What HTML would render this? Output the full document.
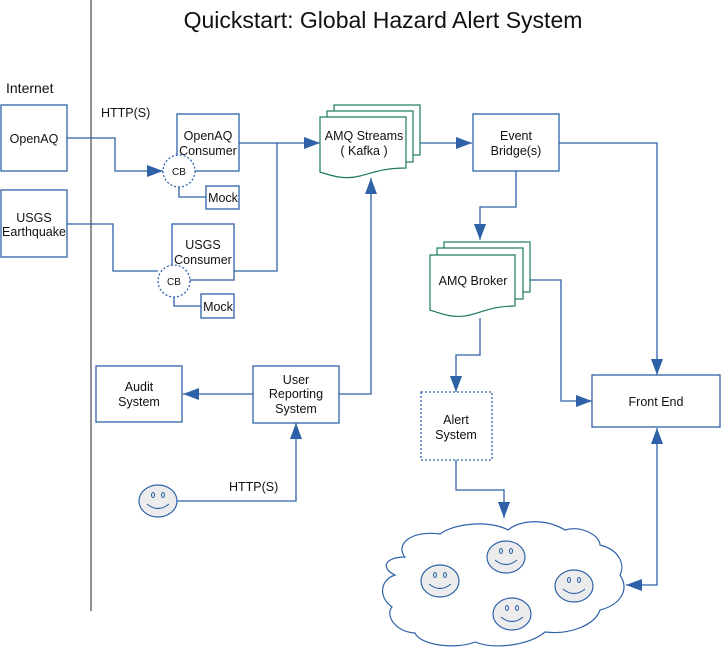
<!DOCTYPE html>
<html><head><meta charset="utf-8"><style>
html,body{margin:0;padding:0;background:#fff;}
svg{display:block;font-family:"Liberation Sans",sans-serif;}
text{fill:#111;font-size:12.5px;}
</style></head><body>
<svg width="722" height="651" viewBox="0 0 722 651" xmlns="http://www.w3.org/2000/svg">
<defs>
<marker id="b" viewBox="0 0 10 10" markerWidth="16" markerHeight="12" refX="10" refY="5" orient="auto-start-reverse" markerUnits="userSpaceOnUse" preserveAspectRatio="none"><path d="M0,0 L10,5 L0,10 Z" fill="#2e62a8"/></marker>
</defs>
<g fill="none" stroke="#2e62a8" stroke-width="1.3">
<line x1="91" y1="0" x2="91" y2="611" stroke="#222" stroke-width="1"/>
<rect x="1" y="105" width="66" height="66"/>
<rect x="1" y="190" width="66" height="67"/>
<rect x="177" y="114" width="62" height="57"/>
<rect x="206" y="186" width="33" height="23"/>
<rect x="172" y="224" width="62" height="56"/>
<rect x="201" y="294" width="33" height="24"/>
<rect x="473" y="114" width="86" height="57"/>
<rect x="592" y="375" width="128" height="52"/>
<rect x="96" y="366" width="86" height="56"/>
<rect x="253" y="366" width="86" height="57"/>
<rect x="421" y="392" width="71" height="68" stroke-dasharray="2,2"/>
<circle cx="179" cy="171" r="16" fill="#fff" stroke-dasharray="2,2"/>
<circle cx="174" cy="281" r="16" fill="#fff" stroke-dasharray="2,2"/>
<polyline points="179,187 179,197 206,197"/>
<polyline points="174,297 174,306 201,306"/>
<polyline points="67,138 115,138 115,171 163,171" marker-end="url(#b)"/>
<polyline points="67,224 113,224 113,271 158,271"/>
<polyline points="239,143 320,143" marker-end="url(#b)"/>
<polyline points="234,271 277,271 277,143"/>
<polyline points="420,143 472,143" marker-end="url(#b)"/>
<polyline points="516,171 516,207 480,207 480,240" marker-end="url(#b)"/>
<polyline points="530,280 561,280 561,401 592,401" marker-end="url(#b)"/>
<polyline points="559,143 657,143 657,375" marker-end="url(#b)"/>
<polyline points="480,318 480,355 456,355 456,392" marker-end="url(#b)"/>
<polyline points="456,460 456,490 504,490 504,518" marker-end="url(#b)"/>
<polyline points="657,428 657,585 626,585" marker-start="url(#b)" marker-end="url(#b)"/>
<polyline points="253,394 183,394" marker-end="url(#b)"/>
<polyline points="339,394 371,394 371,178" marker-end="url(#b)"/>
<polyline points="177,501 296,501 296,423" marker-end="url(#b)"/>
</g>
<g fill="#fff" stroke="#1d7a5f" stroke-width="1.2">
<rect x="334" y="105" width="86" height="50"/>
<rect x="327" y="111" width="86" height="51"/>
<path d="M320,117 H406 V168 C385,168 375,172 360,176 C345,180 332,176 320,172 Z"/>
<rect x="444" y="242" width="86" height="50"/>
<rect x="437" y="248" width="86" height="51"/>
<path d="M430,255 H515 V306 C495,306 485,311 470,315 C455,319 442,314 430,310 Z"/>
</g>
<path fill="#fff" stroke="#2e62a8" stroke-width="1.2" d="M405,557 C395,545 410,530 440,534 C455,523 490,520 508,530 C520,520 545,518 565,530 C580,525 600,535 600,545 C620,550 625,565 620,575 C630,590 620,605 600,610 C595,625 570,635 545,632 C530,645 495,650 475,642 C455,650 420,645 415,633 C395,632 385,615 392,607 C378,597 380,580 395,575 C380,568 385,557 405,557 Z"/>
<g fill="#ececec" stroke="#2e62a8" stroke-width="1.2">
<ellipse cx="158" cy="501" rx="19" ry="16"/>
<ellipse cx="440" cy="581" rx="19" ry="16"/>
<ellipse cx="506" cy="557" rx="19" ry="16"/>
<ellipse cx="574" cy="586" rx="19" ry="16"/>
<ellipse cx="512" cy="614" rx="19" ry="16"/>
</g>
<g fill="none" stroke="#2e62a8" stroke-width="1.1">
<path d="M147,504 Q158,513 169,504"/><ellipse cx="153" cy="495" rx="1.5" ry="2.5"/><ellipse cx="163" cy="495" rx="1.5" ry="2.5"/>
<path d="M429,584 Q440,593 451,584"/><ellipse cx="435" cy="575" rx="1.5" ry="2.5"/><ellipse cx="445" cy="575" rx="1.5" ry="2.5"/>
<path d="M495,560 Q506,569 517,560"/><ellipse cx="501" cy="551" rx="1.5" ry="2.5"/><ellipse cx="511" cy="551" rx="1.5" ry="2.5"/>
<path d="M563,589 Q574,598 585,589"/><ellipse cx="569" cy="580" rx="1.5" ry="2.5"/><ellipse cx="579" cy="580" rx="1.5" ry="2.5"/>
<path d="M501,617 Q512,626 523,617"/><ellipse cx="507" cy="608" rx="1.5" ry="2.5"/><ellipse cx="517" cy="608" rx="1.5" ry="2.5"/>
</g>
<text x="383" y="28" text-anchor="middle" style="font-size:23px">Quickstart: Global Hazard Alert System</text>
<text x="6" y="93" style="font-size:14px">Internet</text>
<text x="34" y="143" text-anchor="middle">OpenAQ</text>
<text x="34" y="222" text-anchor="middle">USGS</text>
<text x="34" y="236" text-anchor="middle">Earthquake</text>
<text x="101" y="117">HTTP(S)</text>
<text x="208" y="140" text-anchor="middle">OpenAQ</text>
<text x="208" y="155" text-anchor="middle">Consumer</text>
<text x="179" y="175" text-anchor="middle" style="font-size:10px">CB</text>
<text x="223" y="202" text-anchor="middle">Mock</text>
<text x="203" y="249" text-anchor="middle">USGS</text>
<text x="203" y="264" text-anchor="middle">Consumer</text>
<text x="174" y="285" text-anchor="middle" style="font-size:10px">CB</text>
<text x="218" y="311" text-anchor="middle">Mock</text>
<text x="364" y="140" text-anchor="middle">AMQ Streams</text>
<text x="364" y="155" text-anchor="middle">( Kafka )</text>
<text x="516" y="140" text-anchor="middle">Event</text>
<text x="516" y="155" text-anchor="middle">Bridge(s)</text>
<text x="473" y="285" text-anchor="middle">AMQ Broker</text>
<text x="656" y="406" text-anchor="middle">Front End</text>
<text x="456" y="424" text-anchor="middle">Alert</text>
<text x="456" y="439" text-anchor="middle">System</text>
<text x="139" y="391" text-anchor="middle">Audit</text>
<text x="139" y="406" text-anchor="middle">System</text>
<text x="296" y="384" text-anchor="middle">User</text>
<text x="296" y="398" text-anchor="middle">Reporting</text>
<text x="296" y="413" text-anchor="middle">System</text>
<text x="229" y="491">HTTP(S)</text>
</svg>
</body></html>
